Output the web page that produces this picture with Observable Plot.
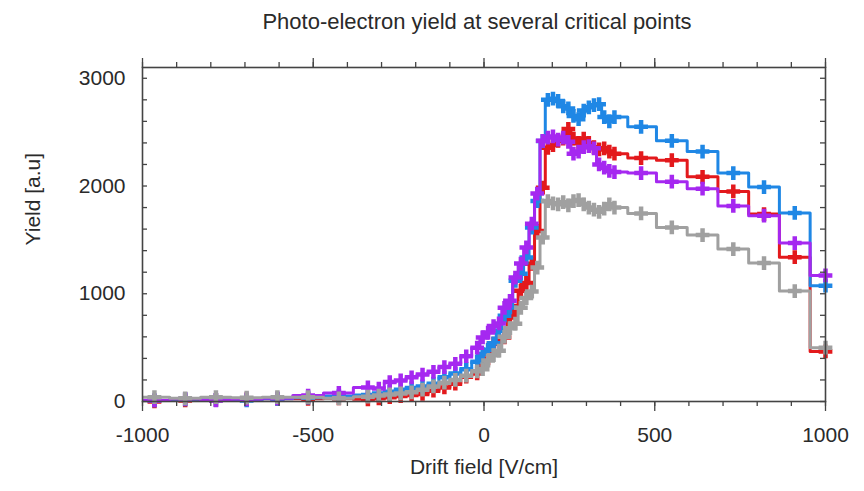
<!DOCTYPE html>
<html>
<head>
<meta charset="utf-8">
<script src="https://cdn.jsdelivr.net/npm/d3@7"></script>
<script src="https://cdn.jsdelivr.net/npm/@observablehq/plot@0.6"></script>
<style>
  body { margin: 0; background: #fff; font-family: "Liberation Sans", Arial, sans-serif; }
  #title { width: 774px; height: 40px; line-height: 44px; padding-left: 90px; text-align: center; font-size: 22px; color: #2a2a2a; }
</style>
</head>
<body>
<div id="title">Photo-electron yield at several critical points</div>
<div id="chart"></div>
<script>
// Drift field bin centres [V/cm]
const fieldCenters = [-965, -875, -785, -695, -605, -515, -425,
  -340, -308, -276, -244, -212, -180, -148, -116, -84, -52, -20,
  -4, 12, 28, 44, 60, 76, 92, 108, 124, 140, 156, 172,
  187, 202, 217, 232, 247, 262, 277, 292, 307, 322, 337, 352, 367, 382,
  460, 550, 640, 730, 820, 910, 1000];

// Yield [a.u] per series
const yieldRed = [0, 10, 15, 20, 25, 25, 30,
  20, 30, 40, 50, 60, 70, 100, 130, 165, 230, 260,
  350, 400, 537, 560, 595, 780, 843, 1028, 1100, 1278, 1583, 1984,
  2355, 2380, 2420, 2440, 2530, 2440, 2400, 2440, 2400, 2360, 2340, 2350, 2320, 2300,
  2260, 2240, 2085, 1950, 1740, 1340, 465];

const yieldBlue = [10, 20, 15, 10, 25, 35, 50,
  60, 75, 90, 110, 125, 140, 165, 225, 259, 300, 370,
  440, 480, 540, 657, 796, 873, 1120, 1185, 1336, 1614, 1860, 2417,
  2800, 2810, 2790, 2740, 2720, 2650, 2620, 2700, 2730, 2750, 2760, 2640, 2600, 2640,
  2550, 2420, 2320, 2120, 1990, 1750, 1075];

const yieldPurple = [10, 25, 10, 20, 30, 55, 80,
  130, 120, 180, 195, 225, 250, 275, 320, 350, 420, 500,
  595, 640, 700, 725, 870, 935, 1150, 1280, 1430, 1650, 1930, 2420,
  2450, 2460, 2430, 2450, 2410, 2300, 2320, 2360, 2370, 2350, 2200, 2170, 2140, 2130,
  2120, 2040, 1975, 1815, 1725, 1470, 1170];

const yieldGray = [40, 30, 40, 35, 40, 40, 30,
  45, 55, 65, 75, 85, 110, 140, 175, 200, 240, 280,
  300, 380, 430, 472, 600, 680, 722, 870, 960, 1020, 1243, 1521,
  1860, 1840, 1830, 1850, 1820, 1860, 1870, 1830, 1800, 1780, 1760, 1790, 1830, 1800,
  1745, 1615, 1545, 1415, 1285, 1025, 500];

const seriesNames = ["red", "blue", "purple", "gray"];
const seriesColors = ["#e3191c", "#1f87e5", "#a528f0", "#a0a0a0"];
const seriesValues = [yieldRed, yieldBlue, yieldPurple, yieldGray];

// Axis ticks
const xMajor = [-1000, -500, 0, 500, 1000];
const xMinor = [-1000, -900, -800, -700, -600, -500, -400, -300, -200, -100, 0,
  100, 200, 300, 400, 500, 600, 700, 800, 900, 1000];
const yMajor = [0, 1000, 2000, 3000];
const yMinor = [0, 200, 400, 600, 800, 1000, 1200, 1400, 1600, 1800, 2000,
  2200, 2400, 2600, 2800, 3000];

// Histogram-style step outline built from bin centres
function histSteps(values) {
  const c = fieldCenters, n = c.length;
  const edges = [c[0] - (c[1] - c[0]) / 2];
  for (let i = 1; i < n; i++) edges.push((c[i - 1] + c[i]) / 2);
  edges.push(c[n - 1] + (c[n - 1] - c[n - 2]) / 2);
  const pts = values.map((v, i) => ({x: edges[i], y: v}));
  pts.push({x: edges[n], y: values[n - 1]});
  return pts;
}

const W = 864, H = 451;
const mL = 142, mR = 39, mT = 27, mB = 90;
const frameW = W - mL - mR;

const marks = [];
seriesValues.forEach((vals, k) => {
  marks.push(Plot.line(histSteps(vals), {x: "x", y: "y", curve: "step-after",
    stroke: seriesColors[k], strokeWidth: 3, clip: true}));
  marks.push(Plot.dot(fieldCenters.map((x, i) => ({x, y: vals[i]})), {x: "x", y: "y",
    symbol: "plus", r: 4.5, stroke: seriesColors[k], strokeWidth: 4.5}));
});

const chart = Plot.plot({
  width: W, height: H,
  marginLeft: mL, marginRight: mR, marginTop: mT, marginBottom: mB,
  style: {fontFamily: "Liberation Sans, Arial, sans-serif", fontSize: "21px", color: "#2a2a2a", background: "#fff"},
  x: {domain: [-1000, 1000]},
  y: {domain: [0, 3100]},
  marks: [
    ...marks,
    Plot.frame({stroke: "#444", strokeWidth: 1.6}),
    // bottom ticks (outward)
    Plot.axisX({anchor: "bottom", ticks: xMinor, tickSize: 5, text: null, label: null, stroke: "#444", strokeWidth: 1.3}),
    Plot.axisX({anchor: "bottom", ticks: xMajor, tickSize: 10, tickPadding: 16, label: null, stroke: "#444", strokeWidth: 1.3, tickFormat: d => String(d)}),
    // top ticks (outward)
    Plot.axisX({anchor: "top", ticks: xMinor, tickSize: 6, text: null, label: null, stroke: "#444", strokeWidth: 1.3}),
    Plot.axisX({anchor: "top", ticks: xMajor, tickSize: 10, text: null, label: null, stroke: "#444", strokeWidth: 1.3}),
    // y labels
    Plot.axisY({anchor: "left", ticks: yMajor, tickSize: 0, tickPadding: 17, label: null, tickFormat: d => String(d)}),
    // inward y ticks, left and right
    Plot.tickY(yMinor, {y: d => d, insetRight: frameW - 5, stroke: "#444", strokeWidth: 1.3}),
    Plot.tickY(yMinor, {y: d => d, insetLeft: frameW - 5, stroke: "#444", strokeWidth: 1.3}),
    // axis titles
    Plot.text(["Drift field [V/cm]"], {frameAnchor: "bottom", dy: 72, text: d => d, fill: "#2a2a2a", fontSize: 21}),
    Plot.text(["Yield [a.u]"], {frameAnchor: "left", dx: -109, dy: 11, rotate: -90, text: d => d, fill: "#2a2a2a", fontSize: 21})
  ]
});
document.getElementById("chart").appendChild(chart);
</script>
</body>
</html>
